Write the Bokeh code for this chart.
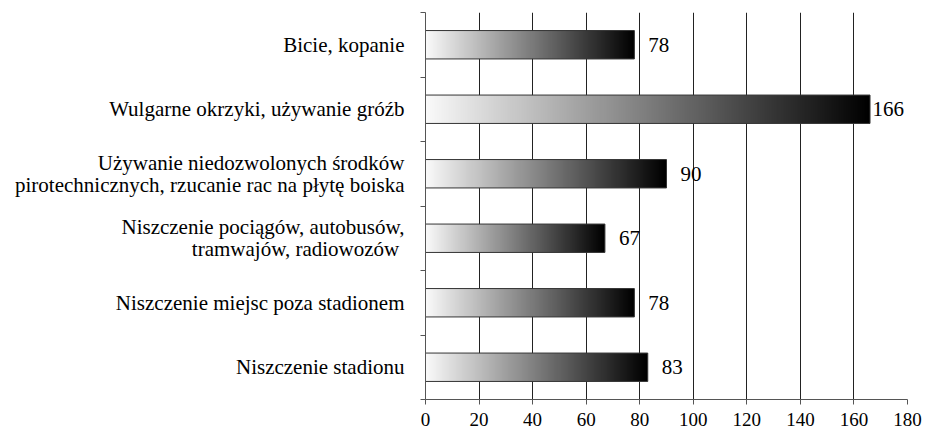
import numpy as np
from bokeh.plotting import figure
from bokeh.models import FixedTicker, Range1d, ColumnDataSource
from bokeh.core.properties import value
from bokeh.embed import file_html
from bokeh.resources import INLINE

# categories listed bottom to top
categories = [
    "Niszczenie stadionu",
    "Niszczenie miejsc poza stadionem",
    "Niszczenie pociągów, autobusów,\ntramwajów, radiowozów ",
    "Używanie niedozwolonych środków\npirotechnicznych, rzucanie rac na płytę boiska",
    "Wulgarne okrzyki, używanie gróźb",
    "Bicie, kopanie",
]
counts = [83, 78, 67, 90, 166, 78]
x_ticks = [0, 20, 40, 60, 80, 100, 120, 140, 160, 180]

FONT = "Liberation Serif"
n = len(categories)
centers = [i + 0.5 for i in range(n)]
bar_h = 0.44
FRAME_W = 482
X_MAX = 180

p = figure(
    frame_width=FRAME_W, frame_height=387,
    x_range=Range1d(0, X_MAX), y_range=Range1d(0, n),
    output_backend="svg", toolbar_location=None,
    min_border_left=425, min_border_right=22, min_border_top=12, min_border_bottom=0,
)
p.outline_line_color = None
p.background_fill_color = "white"

# x axis
p.xaxis.ticker = FixedTicker(ticks=x_ticks)
p.xaxis.axis_line_color = "#555555"
p.xaxis.major_tick_line_color = "#555555"
p.xaxis.major_tick_out = 5
p.xaxis.major_tick_in = 0
p.xaxis.minor_tick_line_color = None
p.xaxis.major_label_text_font = FONT
p.xaxis.major_label_text_font_size = "19px"
p.xaxis.major_label_text_color = "black"
p.xaxis.major_label_standoff = 8

# y axis: labels at centers, ticks at boundaries
p.yaxis.ticker = FixedTicker(ticks=centers, minor_ticks=list(range(n + 1)))
p.yaxis.major_label_overrides = {c: lab for c, lab in zip(centers, categories)}
p.yaxis.axis_line_color = "#555555"
p.yaxis.major_tick_line_color = None
p.yaxis.major_tick_out = 0
p.yaxis.major_tick_in = 0
p.yaxis.minor_tick_line_color = "#555555"
p.yaxis.minor_tick_out = 5
p.yaxis.minor_tick_in = 0
p.yaxis.major_label_text_font = FONT
p.yaxis.major_label_text_font_size = "21px"
p.yaxis.major_label_text_color = "black"
p.yaxis.major_label_text_line_height = 0.9
p.yaxis.major_label_standoff = 16

p.ygrid.grid_line_color = None
p.xgrid.ticker = FixedTicker(ticks=x_ticks)
p.xgrid.grid_line_color = "#222222"
p.xgrid.grid_line_width = 1

# gradient fill image: white -> black
grad = np.linspace(250, 0, 256).astype(np.uint8)
img = np.empty((1, 256), dtype=np.uint32)
view = img.view(dtype=np.uint8).reshape((1, 256, 4))
view[..., 0] = grad
view[..., 1] = grad
view[..., 2] = grad
view[..., 3] = 255

p.image_rgba(
    image=[img] * n, x=[0] * n, y=[c - bar_h / 2 for c in centers],
    dw=counts, dh=[bar_h] * n,
)
p.hbar(y=centers, right=counts, left=0, height=bar_h,
       fill_color=None, line_color="#333333", line_width=1)

# value labels: a gap after the bar, reduced where the frame edge is near
texts = [str(c) for c in counts]
px_per_unit = FRAME_W / X_MAX
offsets = [max(1.0, min(14.0, (X_MAX - c) * px_per_unit - 11 * len(t) - 2))
           for c, t in zip(counts, texts)]
src = ColumnDataSource(dict(x=counts, y=centers, t=texts, dx=offsets))
p.text(x="x", y="y", text="t", x_offset="dx", source=src,
       text_baseline="middle", text_align="left",
       text_font=value(FONT), text_font_size="21px", text_color="black")

open("out.html", "w").write(file_html(p, INLINE))
